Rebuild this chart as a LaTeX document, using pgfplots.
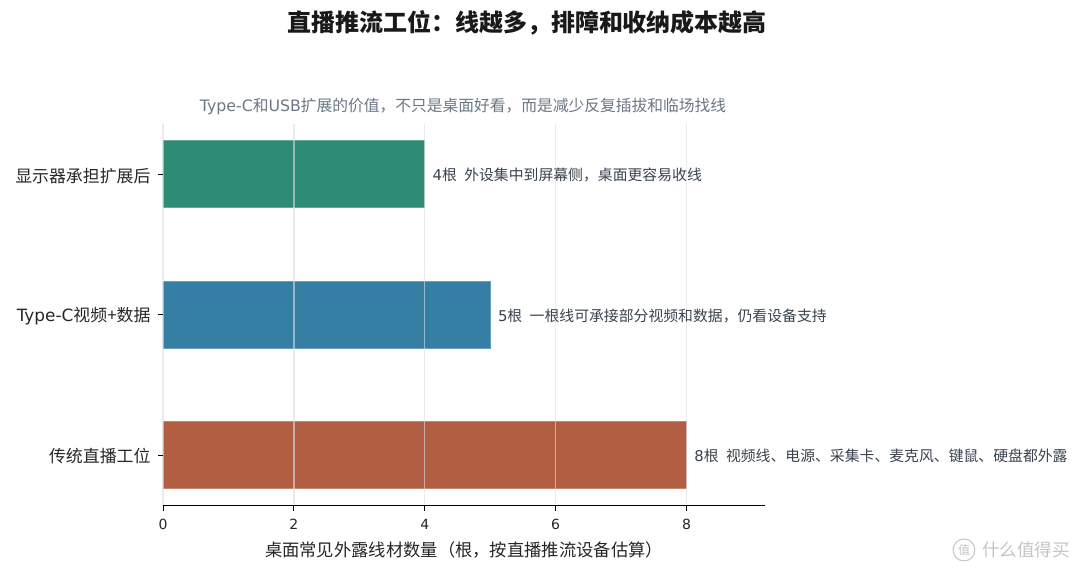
\documentclass[border=0pt]{standalone}
\usepackage{fontspec}
\setmainfont{Noto Sans CJK SC}
\newfontfamily\lat{DejaVu Sans}
\usepackage{pgfplots}
\pgfplotsset{compat=1.18}
\definecolor{cgreen}{HTML}{2E8C74}
\definecolor{cblue}{HTML}{357FA4}
\definecolor{crust}{HTML}{B15E43}
\definecolor{cgrid}{HTML}{D8DFE8}
\definecolor{csub}{HTML}{6B7785}
\definecolor{clab}{HTML}{39424E}
\definecolor{cmark}{HTML}{C4C4C4}
\newcommand{\fs}[1]{\fontsize{#1}{#1}\selectfont}
\begin{document}
\begin{tikzpicture}[x=1pt,y=1pt]
\path[use as bounding box] (0,0) rectangle (1080,572);
\begin{axis}[
    at={(163pt,66pt)}, anchor=south west,
    scale only axis, width=602pt, height=382pt,
    xmin=0, xmax=9.2,
    ymin=-0.364, ymax=2.36,
    axis x line=bottom, axis y line=left,
    axis line style={-},
    y axis line style={draw=none},
    axis on top,
    xtick={0,2,4,6,8},
    ytick={0,1,2},
    yticklabels={传统直播工位,{{\lat Type-C}视频+数据},显示器承担扩展后},
    xmajorgrids,
    major grid style={cgrid, opacity=0.6, line width=1.4pt},
    tick align=outside,
    major tick length=5pt,
    tick style={black, line width=0.8pt},
    x axis line style={black, line width=1pt},
    /pgf/number format/assume math mode=true,
    xticklabel style={font=\lat\fs{14}, text=black!85, yshift=-5pt},
    yticklabel style={font=\fs{16.9}, text=black!85, xshift=-4pt, yshift=-1.5pt},
    xlabel={桌面常见外露线材数量（根，按直播推流设备估算）},
    xlabel style={font=\fs{17.3}, text=black!85, at={(axis description cs:0.5,0)}, anchor=north, yshift=-32pt},
    xbar, bar width=67pt, bar shift=0pt,
    point meta=explicit symbolic,
    nodes near coords,
    every node near coord/.style={font=\fs{14.85}, text=clab, anchor=west, xshift=4pt, yshift=-1pt},
]
\addplot[fill=crust, draw=crust!75!white, line width=1pt] coordinates {(8,0) [{{\lat 8}根\hspace{0.5em}视频线、电源、采集卡、麦克风、键鼠、硬盘都外露}]};
\addplot[fill=cblue, draw=cblue!75!white, line width=1pt] coordinates {(5,1) [{{\lat 5}根\hspace{0.5em}一根线可承接部分视频和数据，仍看设备支持}]};
\addplot[fill=cgreen, draw=cgreen!75!white, line width=1pt] coordinates {(4,2) [{{\lat 4}根\hspace{0.5em}外设集中到屏幕侧，桌面更容易收线}]};
\end{axis}
\node[font=\fs{24}\bfseries, text=black!90] at (527,549) {直播推流工位：线越多，排障和收纳成本越高};
\node[font=\fs{15.75}, text=csub] at (463,466) {{\lat Type-C}和{\lat USB}扩展的价值，不只是桌面好看，而是减少反复插拔和临场找线};
\node[font=\fs{17.5}, text=cmark] at (1026,22) {什么值得买};
\node[circle, draw=cmark, line width=1pt, inner sep=2pt, font=\fs{12}, text=cmark] at (964,22) {值};
\end{tikzpicture}
\end{document}
